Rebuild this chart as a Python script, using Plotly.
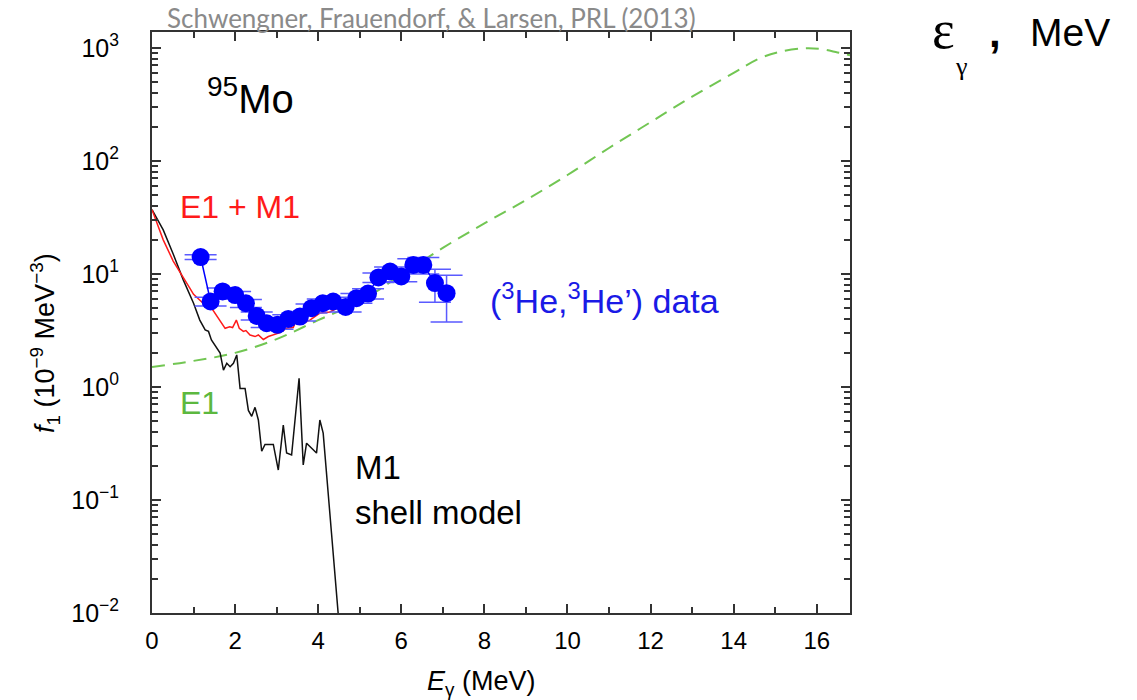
import plotly.graph_objects as go

# ---- data ----
data_E = [1.17, 1.41, 1.70, 2.00, 2.26, 2.52, 2.76, 3.02, 3.28, 3.56, 3.84, 4.11,
          4.36, 4.66, 4.92, 5.20, 5.45, 5.73, 6.00, 6.29, 6.53, 6.81, 7.09]
data_f = [14.1, 5.7, 7.0, 6.5, 5.5, 4.25, 3.66, 3.54, 4.0, 4.19, 4.97, 5.5,
          5.7, 5.1, 6.1, 6.7, 9.3, 10.5, 9.5, 12.0, 12.0, 8.3, 6.75]
data_err = [0.7, 0.5, 0.5, 0.5, 0.45, 0.35, 0.3, 0.3, 0.35, 0.35, 0.45, 0.5,
            0.5, 0.5, 0.6, 0.7, 0.9, 1.0, 1.0, 1.6, 2.0, 2.7, 3.0]

m1_E = [0, 0.27, 0.51, 0.75, 1.0, 1.15, 1.28, 1.36, 1.43, 1.48, 1.6, 1.64, 1.72,
        1.80, 1.88, 1.96, 2.04, 2.12, 2.24, 2.32, 2.40, 2.48, 2.56, 2.64, 2.72,
        2.92, 3.04, 3.16, 3.24, 3.36, 3.54, 3.64, 3.72, 3.84, 3.96, 4.04, 4.12,
        4.32, 4.48]
m1_f = [37, 24.5, 15, 8.9, 5.5, 3.9, 3.2, 3.1, 2.6, 2.44, 2.12, 1.99, 1.41,
        1.62, 1.51, 1.62, 1.92, 0.97, 0.97, 0.62, 0.55, 0.66, 0.51, 0.27, 0.31,
        0.31, 0.184, 0.46, 0.26, 0.25, 1.19, 0.204, 0.318, 0.29, 0.26, 0.51, 0.39,
        0.051, 0.01]

sum_E = [0, 0.27, 0.51, 0.75, 0.91, 1.0, 1.23, 1.43, 1.6, 1.76, 1.87, 1.94, 2.03,
         2.10, 2.2, 2.26, 2.36, 2.48, 2.56, 2.68, 2.80, 2.92, 3.08, 3.24, 3.40,
         3.49, 3.54, 3.64, 3.8, 4.04, 4.28, 4.52, 4.76, 5.04]
sum_f = [37, 20, 13, 9.5, 7.5, 6.6, 5.5, 5.0, 4.06, 3.3, 3.4, 3.35, 3.9,
         3.3, 3.1, 3.15, 2.88, 2.79, 2.88, 2.63, 2.79, 2.88, 3.02, 3.3, 3.35,
         4.06, 4.55, 3.66, 3.9, 4.5, 4.6, 5.1, 5.7, 6.5]

e1_E = [0, 1.0, 2.0, 3.0, 4.0, 5.0, 6.0, 7.0, 8.0, 9.0, 10.0, 11.0, 12.0, 13.0,
        14.0, 14.6, 15.1, 15.7, 16.1, 16.5, 16.8]
e1_f = [1.5, 1.7, 2.0, 2.65, 3.9, 5.7, 9.8, 17, 28, 45, 75, 130, 220, 370,
        600, 800, 920, 990, 975, 910, 860]

x_tickvals = [0, 2, 4, 6, 8, 10, 12, 14, 16]
x_minorvals = [1, 3, 5, 7, 9, 11, 13, 15]
y_tickvals = [0.01, 0.1, 1, 10, 100, 1000]
y_ticktext = ["10<sup>−2</sup>", "10<sup>−1</sup>", "10<sup>0</sup>",
              "10<sup>1</sup>", "10<sup>2</sup>", "10<sup>3</sup>"]
y_minorvals = [m * d for d in [0.01, 0.1, 1, 10, 100, 1000] for m in range(2, 10)]

FONT = "Liberation Sans, Arial, Helvetica, sans-serif"
BLUE = "#0000ff"

fig = go.Figure()
fig.add_trace(go.Scatter(x=e1_E, y=e1_f, mode="lines",
                         line=dict(color="#72c653", width=2, dash="13px,8px", shape="spline"),
                         showlegend=False))
fig.add_trace(go.Scatter(x=m1_E, y=m1_f, mode="lines",
                         line=dict(color="#111111", width=1.5), showlegend=False))
fig.add_trace(go.Scatter(x=sum_E, y=sum_f, mode="lines",
                         line=dict(color="#ff1a1a", width=1.5), showlegend=False))
fig.add_trace(go.Scatter(x=data_E, y=data_f, mode="lines+markers",
                         line=dict(color=BLUE, width=1.5),
                         marker=dict(color=BLUE, size=18),
                         error_y=dict(type="data", array=data_err, visible=True,
                                      color="#5a5aff", thickness=1.5, width=16),
                         showlegend=False))

axis_common = dict(showline=True, linecolor="#333333", linewidth=2, mirror="allticks",
                   ticks="inside", tickcolor="#333333", showgrid=False, zeroline=False)

fig.update_xaxes(range=[0, 16.8], tickmode="array", tickvals=x_tickvals,
                 ticktext=[str(v) for v in x_tickvals], ticklen=9, tickwidth=2,
                 minor=dict(ticks="inside", tickmode="array", tickvals=x_minorvals,
                            ticklen=6, tickcolor="#333333", tickwidth=1.5),
                 tickfont=dict(family=FONT, size=24, color="black"),
                 ticklabelstandoff=5, **axis_common)
fig.update_yaxes(type="log", range=[-2, 3.14], tickmode="array", tickvals=y_tickvals,
                 ticktext=y_ticktext, ticklen=9, tickwidth=2,
                 minor=dict(ticks="inside", tickmode="array", tickvals=y_minorvals,
                            ticklen=6, tickcolor="#333333", tickwidth=1.5),
                 tickfont=dict(family=FONT, size=25, color="black"),
                 ticklabelstandoff=26, **axis_common)

def ann(text, x, y, size, color="black", xanchor="left", **kw):
    fig.add_annotation(text=text, x=x, y=y, xref="paper", yref="paper", showarrow=False,
                       xanchor=xanchor, yanchor="middle",
                       font=dict(family=kw.pop("family", FONT), size=size, color=color), **kw)

# pixel helpers for paper coords (plot area: x 152..850, y 32..613)
def px(xp): return (xp - 152) / 698.0
def py(yp): return (613 - yp) / 581.0

ann("<sup>95</sup>Mo", px(205), py(96), 40)
ann("E1 + M1", px(178), py(207), 32, color="#ff1a1a")
ann("E1", px(178), py(403), 32, color="#5cb83f")
ann("M1", px(353), py(467), 33)
ann("shell model", px(353), py(512), 33)
ann("(<sup>3</sup>He,<sup>3</sup>He’) data", px(488), py(298), 34, color="#1a1ae6")
ann("Schwengner, Frauendorf, &amp; Larsen, PRL (2013)", px(431), py(18), 26,
    color="#8a8a8a", xanchor="center", family="Lato, Open Sans, sans-serif")
ann("ε", px(930), py(30), 54, family="Liberation Serif, serif")
ann("γ", px(953), py(66), 26, family="Liberation Serif, serif")
ann("<b>,</b>", px(987), py(33), 42)
ann("MeV", px(1028), py(32), 39)
ann("<i>E</i><sub>γ</sub> (MeV)", px(481), py(683), 27, xanchor="center")
ann("<i>f</i><sub>1</sub> (10<sup>−9</sup> MeV<sup>−3</sup>)", px(45), py(343), 27,
    xanchor="center", textangle=-90)

fig.update_layout(width=1137, height=700, margin=dict(l=152, r=287, t=32, b=87),
                  plot_bgcolor="white", paper_bgcolor="white", showlegend=False)

fig.write_html("out.html")
